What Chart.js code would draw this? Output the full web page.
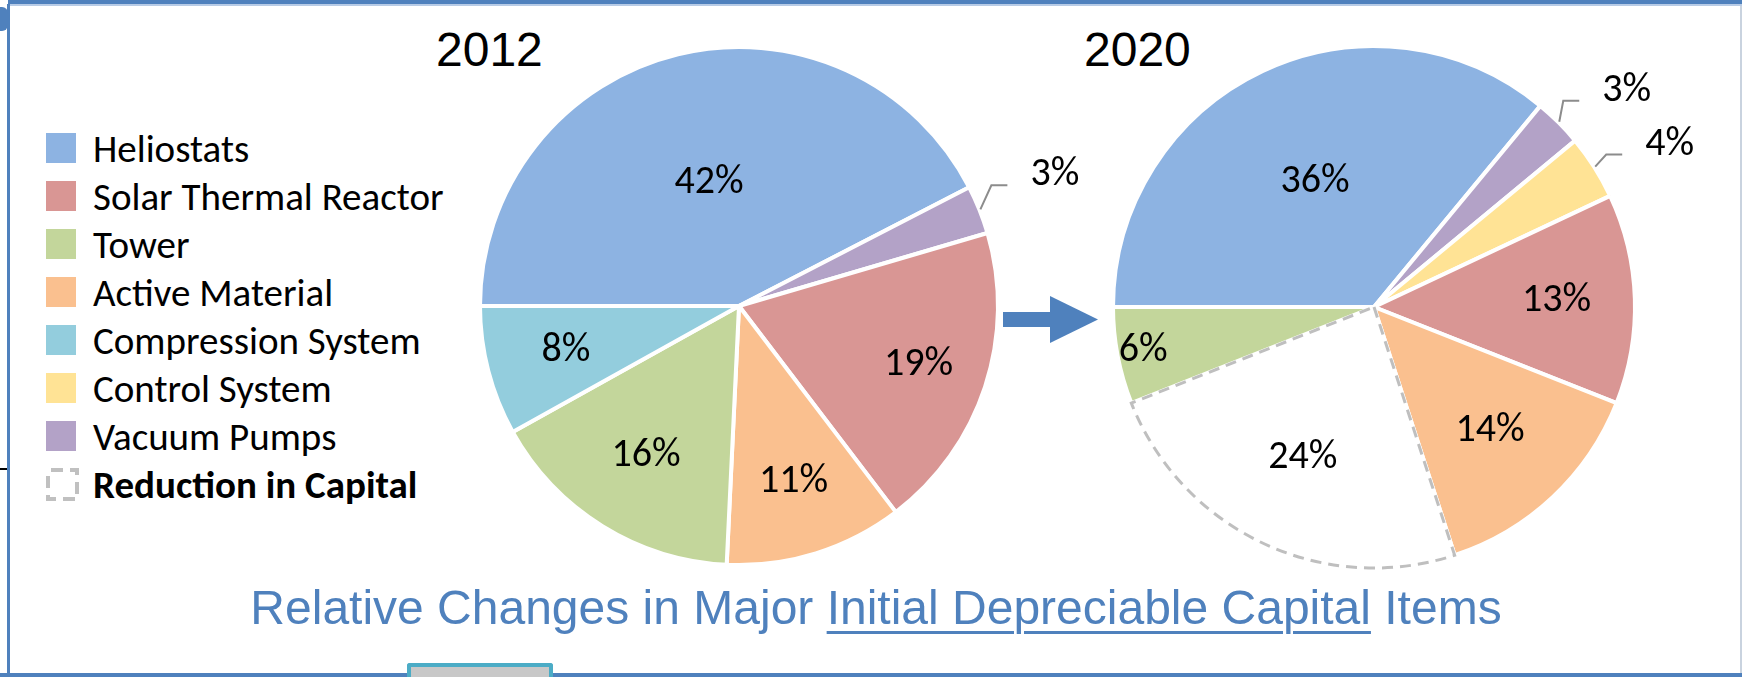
<!DOCTYPE html>
<html>
<head>
<meta charset="utf-8">
<script src="https://cdn.jsdelivr.net/npm/chart.js@4"></script>
<style>
  body {
    margin: 0;
    width: 1742px;
    height: 677px;
    position: relative;
    overflow: hidden;
    background: #fff;
    font-family: Carlito, Lato, sans-serif;
  }
  .frame-top { position: absolute; left: 8px; top: 0; width: 1734px; height: 4px; background: #4f81bd; border-bottom: 2px solid #b7cbe6; }
  .frame-left { position: absolute; left: 7px; top: 4px; width: 3px; height: 673px; background: #4f81bd; }
  .frame-bottom { position: absolute; left: 0; top: 673px; width: 1742px; height: 4px; background: #4f81bd; }
  .frame-right { position: absolute; left: 1740px; top: 6px; width: 2px; height: 667px; background: #c9d3df; }
  .tab { position: absolute; left: 0; top: 7px; width: 8px; height: 24px; background: #4f81bd; border-radius: 0 6px 6px 0; }
  .tick { position: absolute; left: 0; top: 468px; width: 7px; height: 2px; background: #000; }
  .handle { position: absolute; left: 407px; top: 663px; width: 138px; height: 14px; border: 4px solid #4bacc6; border-bottom: none; background: #c8c8c8; border-radius: 3px 3px 0 0; }
  .year {
    position: absolute;
    top: 22px;
    font-family: "Liberation Sans", Arial, sans-serif;
    font-size: 48px;
    color: #000;
  }
  #legenda { position: absolute; left: 46px; top: 124px; margin: 0; padding: 0; list-style: none; }
  #legenda li { height: 48px; display: flex; align-items: center; font-size: 39px; color: #000; white-space: nowrap; }
  #legenda .chave { width: 30px; height: 30px; margin-right: 17px; flex: none; }
  #legenda svg { margin-right: 14px; flex: none; }
  #legenda .negrito { font-weight: bold; }
  canvas { position: absolute; }
  #seta { position: absolute; left: 0; top: 0; }
  #legenda-titulo {
    position: absolute;
    left: 0;
    width: 1752px;
    top: 580px;
    text-align: center;
    font-family: "Liberation Sans", Arial, sans-serif;
    font-size: 48px;
    color: #4f81bd;
  }
  #legenda-titulo u { text-decoration-thickness: 3px; text-underline-offset: 7px; }
</style>
</head>
<body>
<div class="frame-top"></div>
<div class="frame-left"></div>
<div class="frame-bottom"></div>
<div class="frame-right"></div>
<div class="tab"></div>
<div class="tick"></div>
<div class="handle"></div>

<div class="year" style="left: 436px;">2012</div>
<div class="year" style="left: 1084px;">2020</div>

<ul id="legenda"></ul>

<canvas id="pizza-2012" width="660" height="580" style="left: 440px; top: 20px;"></canvas>
<canvas id="pizza-2020" width="642" height="580" style="left: 1100px; top: 20px;"></canvas>

<svg id="seta" width="1742" height="677">
  <rect x="1003" y="312" width="48" height="15" fill="#4f81bd"></rect>
  <polygon points="1050,296 1098,319.5 1050,343" fill="#4f81bd"></polygon>
</svg>

<div id="legenda-titulo">Relative Changes in Major <u>Initial Depreciable Capital</u> Items</div>

<script>
// Categorias na ordem da legenda
const categorias = [
  "Heliostats",
  "Solar Thermal Reactor",
  "Tower",
  "Active Material",
  "Compression System",
  "Control System",
  "Vacuum Pumps",
  "Reduction in Capital",
];
const cores = [
  "#8db3e2",
  "#d99694",
  "#c3d69b",
  "#fac08f",
  "#93cddd",
  "#ffe395",
  "#b3a2c7",
  "#ffffff",
];

// Fatias de cada ano, no sentido horário a partir das 9 horas
const fatias2012 = ["Heliostats", "Vacuum Pumps", "Solar Thermal Reactor", "Active Material", "Tower", "Compression System"];
const valores2012 = [42, 3, 19, 11, 16, 8];

const fatias2020 = ["Heliostats", "Vacuum Pumps", "Control System", "Solar Thermal Reactor", "Active Material", "Reduction in Capital", "Tower"];
const valores2020 = [36, 3, 4, 13, 14, 24, 6];

const REDUCAO = "Reduction in Capital";

function corDe(nome) {
  return cores[categorias.indexOf(nome)];
}

// Legenda em HTML
const legenda = document.getElementById("legenda");
categorias.forEach((nome, i) => {
  const li = document.createElement("li");
  if (nome === REDUCAO) {
    li.innerHTML = `<svg width="33" height="33"><rect x="2" y="2" width="29" height="29" fill="#fff" stroke="#c0c0c0" stroke-width="4" stroke-dasharray="12 7" stroke-dashoffset="-3"></rect></svg><span class="negrito">${nome}</span>`;
  } else {
    li.innerHTML = `<span class="chave" style="background:${cores[i]}"></span><span>${nome}</span>`;
  }
  legenda.appendChild(li);
});

// Plugin: contorno tracejado da fatia de redução + rótulos de percentagem
const rotulosPlugin = {
  id: "rotulos",
  afterDatasetsDraw(chart, args, opts) {
    const ctx = chart.ctx;
    const meta = chart.getDatasetMeta(0);
    const dados = chart.data.datasets[0].data;
    const nomes = chart.data.labels;

    ctx.save();
    meta.data.forEach((arco, i) => {
      if (nomes[i] !== REDUCAO) return;
      const { x, y, startAngle, endAngle, outerRadius } = arco.getProps(
        ["x", "y", "startAngle", "endAngle", "outerRadius"], true
      );
      ctx.beginPath();
      ctx.moveTo(x, y);
      ctx.arc(x, y, outerRadius, startAngle, endAngle);
      ctx.closePath();
      ctx.setLineDash([11, 7]);
      ctx.lineWidth = 3;
      ctx.strokeStyle = "#bfbfbf";
      ctx.stroke();
    });
    ctx.restore();

    ctx.save();
    ctx.font = "40px Carlito, Lato, sans-serif";
    ctx.fillStyle = "#000";
    meta.data.forEach((arco, i) => {
      const { x, y, startAngle, endAngle, outerRadius } = arco.getProps(
        ["x", "y", "startAngle", "endAngle", "outerRadius"], true
      );
      const meio = (startAngle + endAngle) / 2;
      const texto = dados[i] + "%";
      const pos = opts.posicoes[i];

      if (typeof pos === "number") {
        ctx.textAlign = "center";
        ctx.textBaseline = "middle";
        ctx.fillText(texto, x + Math.cos(meio) * outerRadius * pos, y + Math.sin(meio) * outerRadius * pos);
        return;
      }

      // rótulo externo: pos = [dx, dy] do primeiro trecho da linha de chamada
      const x0 = x + Math.cos(meio) * (outerRadius + 1);
      const y0 = y + Math.sin(meio) * (outerRadius + 1);
      const x1 = x0 + pos[0];
      const y1 = y0 + pos[1];
      ctx.beginPath();
      ctx.moveTo(x0, y0);
      ctx.lineTo(x1, y1);
      ctx.lineTo(x1 + 16, y1);
      ctx.lineWidth = 2;
      ctx.strokeStyle = "#8c8c8c";
      ctx.stroke();
      ctx.textAlign = "left";
      ctx.textBaseline = "middle";
      ctx.fillText(texto, x1 + 39, y1 - 10);
    });
    ctx.restore();
  },
};

function criarPizza(id, nomes, valores, raio, padding, posicoes) {
  return new Chart(document.getElementById(id), {
    type: "pie",
    data: {
      labels: nomes,
      datasets: [
        {
          data: valores,
          backgroundColor: nomes.map(corDe),
          borderColor: "#ffffff",
          borderWidth: 4,
          hoverBorderWidth: 4,
          hoverOffset: 0,
        },
      ],
    },
    options: {
      responsive: false,
      animation: false,
      events: [],
      rotation: -90,
      radius: raio,
      layout: { padding },
      plugins: {
        legend: { display: false },
        tooltip: { enabled: false },
        rotulos: { posicoes },
      },
    },
    plugins: [rotulosPlugin],
  });
}

criarPizza(
  "pizza-2012",
  fatias2012,
  valores2012,
  259,
  { left: 20, right: 82, top: 10, bottom: 18 },
  [0.49, [11, -24], 0.73, 0.71, 0.68, 0.69]
);

criarPizza(
  "pizza-2020",
  fatias2020,
  valores2020,
  261,
  { left: 10, right: 104, top: 10, bottom: 16 },
  [0.53, [4, -21], [11, -12], 0.7, 0.65, 0.64, 0.9]
);
</script>
</body>
</html>
